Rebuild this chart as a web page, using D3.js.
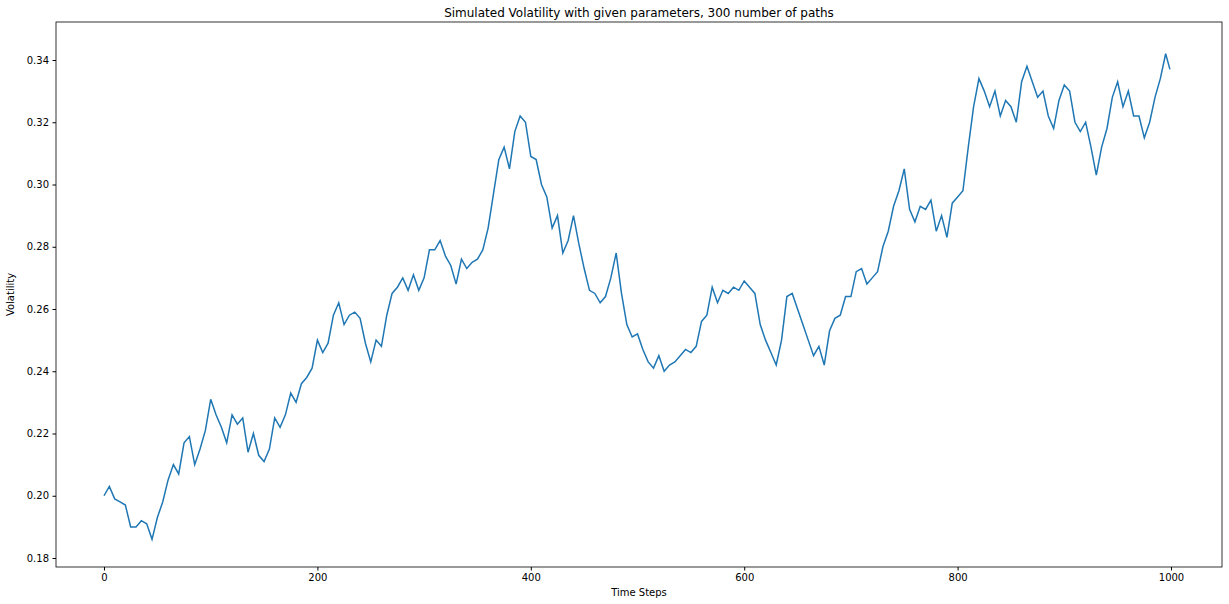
<!DOCTYPE html><html><head><meta charset="utf-8"><script src="https://cdn.jsdelivr.net/npm/d3@7"></script>
<style>body{margin:0;background:#fff}text{font-family:"DejaVu Sans",sans-serif}</style></head><body><svg id="c" width="1229" height="604"></svg>
<script>
const steps = d3.range(0,1000,5).concat([999]);
const vol = [0.200,0.203,0.199,0.198,0.197,0.190,0.190,0.192,0.191,0.186,0.193,0.198,0.205,0.210,0.207,0.217,0.219,0.210,0.215,0.221,
0.231,0.226,0.222,0.217,0.226,0.223,0.225,0.214,0.220,0.213,0.211,0.215,0.225,0.222,0.226,0.233,0.230,0.236,0.238,0.241,
0.250,0.246,0.249,0.258,0.262,0.255,0.258,0.259,0.257,0.249,0.243,0.250,0.248,0.258,0.265,0.267,0.270,0.266,0.271,0.266,
0.270,0.279,0.279,0.282,0.277,0.274,0.268,0.276,0.273,0.275,0.276,0.279,0.286,0.297,0.308,0.312,0.305,0.317,0.322,0.320,
0.309,0.308,0.300,0.296,0.286,0.290,0.278,0.282,0.290,0.281,0.273,0.266,0.265,0.262,0.264,0.270,0.278,0.265,0.255,0.251,
0.252,0.247,0.243,0.241,0.245,0.240,0.242,0.243,0.245,0.247,0.246,0.248,0.256,0.258,0.267,0.262,0.266,0.265,0.267,0.266,
0.269,0.267,0.265,0.255,0.250,0.246,0.242,0.250,0.264,0.265,0.260,0.255,0.250,0.245,0.248,0.242,0.253,0.257,0.258,0.264,
0.264,0.272,0.273,0.268,0.270,0.272,0.280,0.285,0.293,0.298,0.305,0.292,0.288,0.293,0.292,0.295,0.285,0.290,0.283,0.294,
0.296,0.298,0.312,0.325,0.334,0.330,0.325,0.330,0.322,0.327,0.325,0.320,0.333,0.338,0.333,0.328,0.330,0.322,0.318,0.327,
0.332,0.330,0.320,0.317,0.320,0.312,0.303,0.312,0.318,0.328,0.333,0.325,0.330,0.322,0.322,0.315,0.320,0.328,0.334,0.342,0.337];
const xTicks=[0,200,400,600,800,1000], yTicks=[0.18,0.20,0.22,0.24,0.26,0.28,0.30,0.32,0.34];
const L=56,R=1222,T=22,B=567;
const x=d3.scaleLinear().domain([-45,1047.8]).range([L,R]);
const y=d3.scaleLinear().domain([0.18+(558-B)/3112.5,0.34+(60-T)/3112.5]).range([B,T]);
const svg=d3.select("#c");
const g=svg.append("g");
g.append("path").datum(steps.map((s,i)=>[s,vol[i]])).attr("fill","none").attr("stroke","#1f77b4").attr("stroke-width",1.5)
 .attr("d",d3.line().x(d=>x(d[0])).y(d=>y(d[1])));
const ax=svg.append("g").attr("transform",`translate(0,${B})`).call(d3.axisBottom(x).tickValues(xTicks).tickSize(3.5).tickPadding(3.5).tickFormat(d3.format("d")));
const ay=svg.append("g").attr("transform",`translate(${L},0)`).call(d3.axisLeft(y).tickValues(yTicks).tickSize(3.5).tickPadding(3.5).tickFormat(d3.format(".2f")));
[ax,ay].forEach(a=>{a.selectAll("text").attr("font-size",10).attr("fill","#000");a.select(".domain").remove();a.selectAll("line").attr("stroke","#000");});
svg.append("rect").attr("x",L).attr("y",T).attr("width",R-L).attr("height",B-T).attr("fill","none").attr("stroke","#000").attr("stroke-width",0.8);
svg.append("text").attr("x",(L+R)/2).attr("y",17).attr("text-anchor","middle").attr("font-size",12).text("Simulated Volatility with given parameters, 300 number of paths");
svg.append("text").attr("x",(L+R)/2).attr("y",596).attr("text-anchor","middle").attr("font-size",10).text("Time Steps");
svg.append("text").attr("transform","translate(14,"+(T+B)/2+") rotate(-90)").attr("text-anchor","middle").attr("font-size",10).text("Volatility");
</script></body></html>
